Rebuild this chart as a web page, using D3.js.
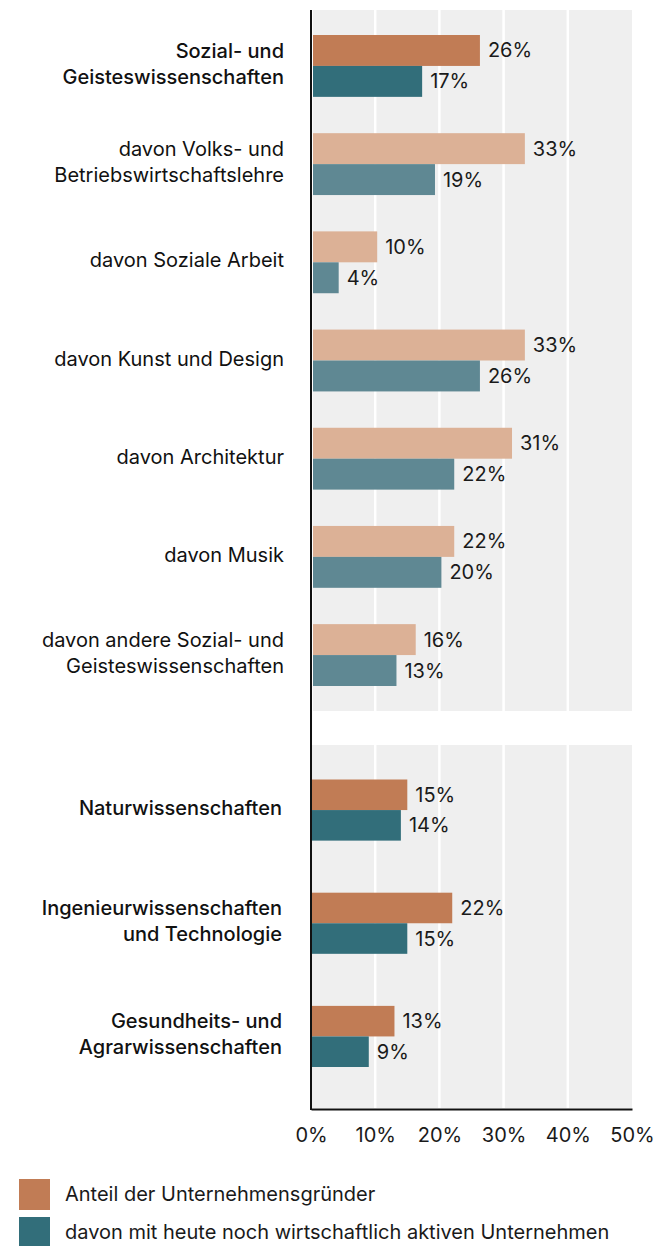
<!DOCTYPE html>
<html>
<head>
<meta charset="utf-8">
<script src="https://cdn.jsdelivr.net/npm/d3@7"></script>
<style>
  body { margin: 0; background: #fff; }
  svg { display: block; font-family: Inter, "Noto Sans", sans-serif; }
</style>
</head>
<body>
<svg></svg>
<script>
// categories and values
let topCategories = ['Sozial- und|Geisteswissenschaften', 'davon Volks- und|Betriebswirtschaftslehre', 'davon Soziale Arbeit',
                     'davon Kunst und Design', 'davon Architektur', 'davon Musik', 'davon andere Sozial- und|Geisteswissenschaften']
let topBold = [true, false, false, false, false, false, false]
let topFounders = [26, 33, 10, 33, 31, 22, 16]
let topActive = [17, 19, 4, 26, 22, 20, 13]

let bottomCategories = ['Naturwissenschaften', 'Ingenieurwissenschaften|und Technologie', 'Gesundheits- und|Agrarwissenschaften']
let bottomFounders = [15, 22, 13]
let bottomActive = [14, 15, 9]

let ticks = [0, 10, 20, 30, 40, 50]
let legendLabels = ['Anteil der Unternehmensgründer', 'davon mit heute noch wirtschaftlich aktiven Unternehmen']

let width = 669
let height = 1246

let colFounders = '#c17c55'
let colActive = '#326e7a'
let colFoundersLight = '#dcb196'
let colActiveLight = '#5f8893'

let svg = d3.select('svg').attr('width', width).attr('height', height)

let xScale = d3.scaleLinear().domain([0, 50]).range([311, 632])

// draws one panel of grouped bars
let drawPanel = (cats, bold, founders, active, panelTop, panelBottom, bandRange, pad, dx) => {
    let yScale = d3.scaleBand()
        .domain(cats)
        .range(bandRange)
        .paddingInner(pad)
        .paddingOuter(0)
    let bw = yScale.bandwidth()

    let g = svg.append('g').attr('transform', 'translate(' + dx + ',0)')

    g.append('rect')
        .attr('x', xScale(0))
        .attr('y', panelTop)
        .attr('width', xScale(50) - xScale(0) - dx)
        .attr('height', panelBottom - panelTop)
        .attr('fill', '#efefef')

    g.selectAll('.grid')
        .data(ticks.slice(1, 5))
        .enter()
        .append('line')
        .attr('x1', (d) => xScale(d) - dx)
        .attr('x2', (d) => xScale(d) - dx)
        .attr('y1', panelTop)
        .attr('y2', panelBottom)
        .attr('stroke', '#fff')
        .attr('stroke-width', 2.5)

    cats.forEach((c, i) => {
        let y0 = yScale(c)
        let light = !bold[i]
        let rows = [
            { v: founders[i], y: y0, col: light ? colFoundersLight : colFounders },
            { v: active[i], y: y0 + bw / 2, col: light ? colActiveLight : colActive }
        ]
        rows.forEach((r) => {
            g.append('rect')
                .attr('x', xScale(0))
                .attr('y', r.y)
                .attr('width', xScale(r.v) - xScale(0))
                .attr('height', bw / 2)
                .attr('fill', r.col)
            g.append('text')
                .attr('x', xScale(r.v) + 8)
                .attr('y', r.y + bw / 4)
                .attr('dy', '0.35em')
                .attr('font-size', 20)
                .attr('fill', '#1a1a1a')
                .text(r.v + '%')
        })

        let lines = c.split('|')
        let t = g.append('text')
            .attr('text-anchor', 'end')
            .attr('font-size', 20)
            .attr('font-weight', bold[i] ? 500 : 400)
            .attr('fill', '#111')
        lines.forEach((l, j) => {
            t.append('tspan')
                .attr('x', 282)
                .attr('y', y0 + bw / 2 - 2 + (j - (lines.length - 1) / 2) * 26)
                .attr('dy', '0.35em')
                .text(l)
        })
    })
}

drawPanel(topCategories, topBold, topFounders, topActive, 10, 711, [35, 686], 0.37, 2)
drawPanel(bottomCategories, [true, true, true], bottomFounders, bottomActive, 745, 1108, [779.5, 1067], 0.46, 0)

// axes
let xAxis = d3.axisBottom(xScale)
    .tickValues(ticks)
    .tickSize(0)
    .tickPadding(19)
    .tickFormat((d) => d + '%')

let axisG = svg.append('g')
    .attr('transform', 'translate(0,1109)')
    .call(xAxis)
axisG.select('.domain').attr('stroke', '#111').attr('stroke-width', 2)
axisG.selectAll('text').attr('font-size', 20).attr('font-family', 'Inter, sans-serif').attr('fill', '#1a1a1a')

svg.append('line')
    .attr('x1', 311).attr('x2', 311)
    .attr('y1', 10).attr('y2', 1110)
    .attr('stroke', '#111')
    .attr('stroke-width', 2)

// legend
let legend = svg.append('g')
legendLabels.forEach((l, i) => {
    legend.append('rect')
        .attr('x', 19)
        .attr('y', 1179 + i * 38)
        .attr('width', 31)
        .attr('height', 31)
        .attr('fill', i === 0 ? colFounders : colActive)
    legend.append('text')
        .attr('x', 65)
        .attr('y', 1194 + i * 38)
        .attr('dy', '0.35em')
        .attr('font-size', 20)
        .attr('fill', '#1a1a1a')
        .text(l)
})
</script>
</body>
</html>
